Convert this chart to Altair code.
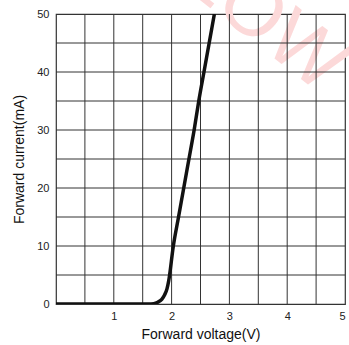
import altair as alt
import pandas as pd

# Forward voltage (V) vs forward current (mA)
voltage = [0.0, 1.0, 1.6, 1.69, 1.76, 1.83, 1.88, 1.92, 1.95, 2.03, 2.12, 2.21, 2.30, 2.39, 2.47, 2.56, 2.65, 2.74]
current = [0.0, 0.0, 0.0, 0.05, 0.3, 0.8, 1.6, 2.6, 4.0, 10.0, 15.0, 20.0, 25.0, 30.0, 35.0, 40.0, 45.0, 50.0]

x_grid = [0.5, 1, 1.5, 2, 2.5, 3, 3.5, 4, 4.5]
y_grid = [5, 10, 15, 20, 25, 30, 35, 40, 45]
x_labels = [1, 2, 3, 4, 5]
y_labels = [0, 10, 20, 30, 40, 50]

wm_text = ["LOW"]
wm_x = [3.6]
wm_y = [49.0]

df = pd.DataFrame({"v": voltage, "i": current})
wm = pd.DataFrame({"t": wm_text, "x": wm_x, "y": wm_y})
gx = pd.DataFrame({"g": x_grid})
gy = pd.DataFrame({"g": y_grid})

FONT = "Liberation Sans"

xscale = alt.Scale(domain=[0, 5], nice=False)
yscale = alt.Scale(domain=[0, 50], nice=False)

watermark = alt.Chart(wm).mark_text(
    font=FONT, fontSize=80, color="#fcd9d9", angle=38, align="center", baseline="middle"
).encode(
    x=alt.X("x:Q", scale=xscale),
    y=alt.Y("y:Q", scale=yscale),
    text="t:N",
)

vgrid = alt.Chart(gx).mark_rule(color="#333333", strokeWidth=1).encode(
    x=alt.X("g:Q", scale=xscale)
)
hgrid = alt.Chart(gy).mark_rule(color="#333333", strokeWidth=1).encode(
    y=alt.Y("g:Q", scale=yscale)
)

line = alt.Chart(df).mark_line(
    color="#111111", strokeWidth=3.5, interpolate="monotone", clip=True
).encode(
    x=alt.X(
        "v:Q",
        scale=xscale,
        title="Forward voltage(V)",
        axis=alt.Axis(
            values=x_labels,
            format="d",
            grid=False,
            ticks=False,
            domain=False,
            labelPadding=6,
            titlePadding=6,
        ),
    ),
    y=alt.Y(
        "i:Q",
        scale=yscale,
        title="Forward current(mA)",
        axis=alt.Axis(
            values=y_labels,
            format="d",
            grid=False,
            ticks=False,
            domain=False,
            labelPadding=7,
            titlePadding=10,
        ),
    ),
)

chart = (
    alt.layer(watermark, vgrid, hgrid, line)
    .properties(
        width=289,
        height=290,
        autosize=alt.AutoSizeParams(type="none"),
        padding={"left": 56, "top": 14, "right": 4, "bottom": 41},
    )
    .configure_view(stroke="#333333", strokeWidth=1.2)
    .configure_axis(
        labelFont=FONT,
        labelFontSize=11,
        labelColor="#222222",
        titleFont=FONT,
        titleFontSize=14,
        titleFontWeight="normal",
        titleColor="#111111",
    )
)

chart.save("out.html", embed_options={"renderer": "svg", "actions": False})
